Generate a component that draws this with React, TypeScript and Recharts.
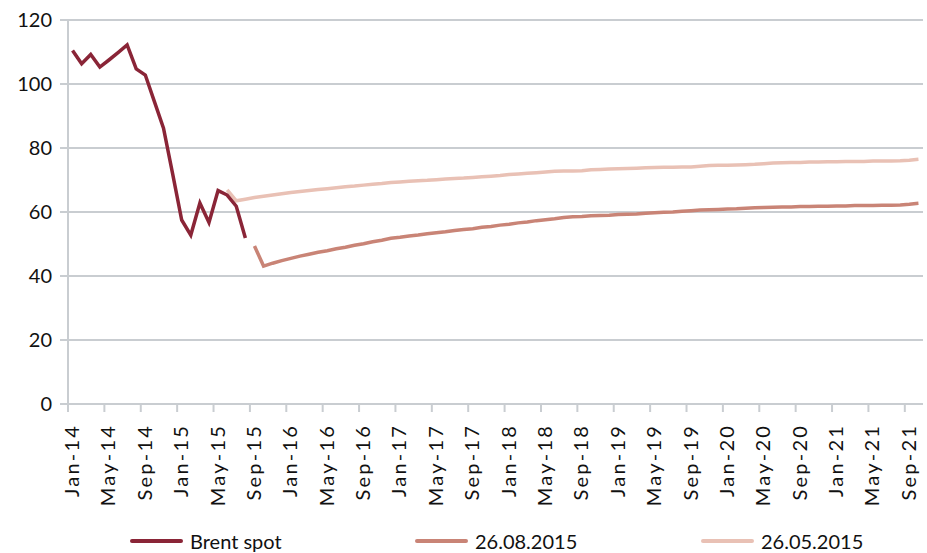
import React from 'react';
import { LineChart, Line, XAxis, YAxis, CartesianGrid, Legend } from 'recharts';

// x-axis: monthly categories Jan-14 .. Oct-21 (94 months), labels every 4 months
const tickLabels = [
  'Jan-14', 'May-14', 'Sep-14', 'Jan-15', 'May-15', 'Sep-15', 'Jan-16', 'May-16',
  'Sep-16', 'Jan-17', 'May-17', 'Sep-17', 'Jan-18', 'May-18', 'Sep-18', 'Jan-19',
  'May-19', 'Sep-19', 'Jan-20', 'May-20', 'Sep-20', 'Jan-21', 'May-21', 'Sep-21',
];
const monthCount = 94;

// Brent spot, Jan-14 .. Aug-15
const brentSpot = [
  110.5, 106.3, 109.2, 105.3, 107.5, 109.8, 112.2, 104.7, 102.8, 94.5,
  86.2, 72.0, 57.5, 52.8, 62.8, 56.7, 66.7, 65.3, 61.8, 51.9,
];

// futures curve of 26.05.2015, starts Jun-15 (month 17)
const curveMayStart = 17;
const curveMay = [
  66.9, 63.5, 64.0, 64.5, 64.9, 65.3, 65.7, 66.1, 66.4, 66.7,
  67.0, 67.3, 67.6, 67.9, 68.1, 68.4, 68.7, 68.9, 69.2, 69.4,
  69.6, 69.8, 69.9, 70.1, 70.3, 70.5, 70.6, 70.8, 71.0, 71.2,
  71.4, 71.7, 71.9, 72.1, 72.3, 72.5, 72.7, 72.8, 72.8, 72.9,
  73.2, 73.3, 73.4, 73.5, 73.6, 73.7, 73.8, 73.9, 74.0, 74.0,
  74.1, 74.1, 74.3, 74.5, 74.6, 74.6, 74.7, 74.8, 74.9, 75.1,
  75.3, 75.4, 75.5, 75.5, 75.6, 75.6, 75.7, 75.7, 75.8, 75.8,
  75.8, 75.9, 75.9, 75.9, 76.0, 76.2, 76.5,
];

// futures curve of 26.08.2015, starts Sep-15 (month 20)
const curveAugStart = 20;
const curveAug = [
  49.4, 43.1, 44.0, 44.8, 45.5, 46.2, 46.8, 47.4, 47.9, 48.5,
  49.0, 49.6, 50.1, 50.7, 51.2, 51.8, 52.1, 52.5, 52.8, 53.2,
  53.5, 53.8, 54.2, 54.5, 54.8, 55.2, 55.5, 55.9, 56.2, 56.6,
  56.9, 57.3, 57.6, 57.9, 58.3, 58.5, 58.6, 58.8, 58.9, 59.0,
  59.2, 59.3, 59.4, 59.6, 59.8, 59.9, 60.0, 60.2, 60.4, 60.6,
  60.7, 60.8, 60.9, 61.0, 61.2, 61.3, 61.4, 61.5, 61.6, 61.6,
  61.7, 61.7, 61.8, 61.8, 61.9, 61.9, 62.0, 62.0, 62.0, 62.1,
  62.1, 62.2, 62.4, 62.7,
];

const yTicks = [0, 20, 40, 60, 80, 100, 120];

const FONT = 'Lato, "Open Sans", sans-serif';
const COLORS = { brent: '#8a2537', aug: '#c98476', may: '#e9c1b5' };

const data = Array.from({ length: monthCount }, (_, i) => ({
  x: i + 0.5,
  brent: i < brentSpot.length ? brentSpot[i] : null,
  may: i >= curveMayStart && i - curveMayStart < curveMay.length ? curveMay[i - curveMayStart] : null,
  aug: i >= curveAugStart && i - curveAugStart < curveAug.length ? curveAug[i - curveAugStart] : null,
}));

const xTicks = tickLabels.map((_, i) => i * 4);

const XTick = (props: any) => {
  const { x, y, payload } = props;
  const label = tickLabels[payload.value / 4];
  return (
    <text
      transform={`translate(${x + 11},${y + 10}) rotate(-90)`}
      textAnchor="end"
      fontSize={20}
      letterSpacing={2.2}
      fontFamily={FONT}
      fill="#111"
    >
      {label}
    </text>
  );
};

const legendItems = [
  { name: 'Brent spot', color: COLORS.brent, left: 130 },
  { name: '26.08.2015', color: COLORS.aug, left: 415 },
  { name: '26.05.2015', color: COLORS.may, left: 701 },
];

const LegendContent = () => (
  <div style={{ position: 'relative', width: 927, height: 24 }}>
    {legendItems.map((it) => (
      <div key={it.name} style={{ position: 'absolute', left: it.left, top: 0, display: 'flex', alignItems: 'center', height: 24 }}>
        <span style={{ display: 'inline-block', width: 53, height: 4, background: it.color, borderRadius: 2, marginRight: 7 }} />
        <span style={{ fontFamily: FONT, fontSize: 20, color: '#111' }}>{it.name}</span>
      </div>
    ))}
  </div>
);

export default function App() {
  return (
    <div style={{ position: 'absolute', left: 0, top: 0 }}>
      <LineChart width={927} height={553} data={data} margin={{ top: 20, right: 4, bottom: 0, left: 0 }}>
        <CartesianGrid vertical={false} stroke="#c9cdd1" strokeWidth={2} />
        <XAxis
          dataKey="x"
          type="number"
          domain={[0, monthCount]}
          ticks={xTicks}
          interval={0}
          tick={<XTick />}
          tickSize={8}
          height={125}
          axisLine={{ stroke: '#c9cdd1', strokeWidth: 2 }}
          tickLine={{ stroke: '#c9cdd1', strokeWidth: 2 }}
        />
        <YAxis
          domain={[0, 120]}
          ticks={yTicks}
          width={68}
          tickSize={8}
          tickMargin={8}
          tick={{ fontSize: 20, fontFamily: FONT, fill: '#111' }}
          axisLine={{ stroke: '#c9cdd1', strokeWidth: 2 }}
          tickLine={{ stroke: '#c9cdd1', strokeWidth: 2 }}
        />
        <Legend verticalAlign="bottom" height={24} content={<LegendContent />} />
        <Line dataKey="may" name="26.05.2015" stroke={COLORS.may} strokeWidth={3.5} dot={false} isAnimationActive={false} />
        <Line dataKey="aug" name="26.08.2015" stroke={COLORS.aug} strokeWidth={3.5} dot={false} isAnimationActive={false} />
        <Line dataKey="brent" name="Brent spot" stroke={COLORS.brent} strokeWidth={3.5} dot={false} isAnimationActive={false} />
      </LineChart>
    </div>
  );
}
